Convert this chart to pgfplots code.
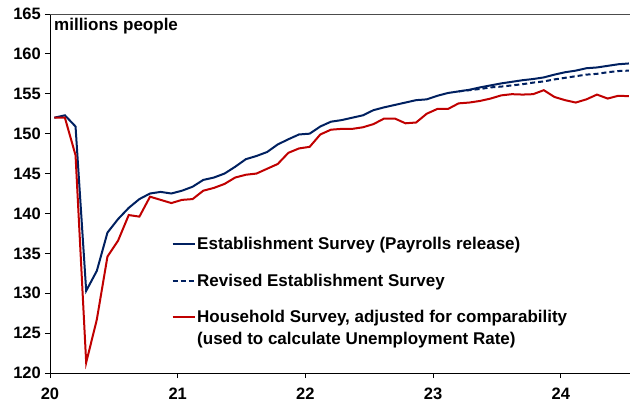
\documentclass[border=0pt]{standalone}
\usepackage{fontspec}
\setmainfont{Liberation Sans}
\usepackage{pgfplots}
\pgfplotsset{compat=1.18}
\usepackage{pgfplotstable}
\definecolor{navy}{RGB}{0,32,96}
\definecolor{dred}{RGB}{192,0,0}
\newcommand\lstrut{\rule[-4.5bp]{0pt}{17bp}}

% m = month index (0 = Jan 2020)
\pgfplotstableread{
m est hh
0 152.0 152.0
1 152.3 152.0
2 150.9 147.3
3 130.3 121.3
4 132.8 126.7
5 137.6 134.6
6 139.3 136.6
7 140.7 139.8
8 141.8 139.6
9 142.5 142.1
10 142.7 141.7
11 142.5 141.3
12 142.85 141.7
13 143.35 141.8
14 144.2 142.85
15 144.5 143.2
16 145.0 143.7
17 145.85 144.5
18 146.8 144.85
19 147.2 145.0
20 147.7 145.6
21 148.65 146.2
22 149.3 147.6
23 149.9 148.15
24 150.0 148.35
25 150.9 149.9
26 151.5 150.5
27 151.7 150.6
28 152.0 150.6
29 152.3 150.8
30 152.95 151.2
31 153.3 151.9
32 153.6 151.9
33 153.9 151.3
34 154.2 151.4
35 154.3 152.5
36 154.75 153.1
37 155.1 153.1
38 155.3 153.8
39 155.5 153.9
40 155.8 154.1
41 156.05 154.4
42 156.3 154.8
43 156.5 154.95
44 156.7 154.9
45 156.85 154.95
46 157.05 155.45
47 157.4 154.6
48 157.7 154.2
49 157.9 153.9
50 158.2 154.3
51 158.3 154.9
52 158.5 154.4
53 158.7 154.75
54 158.8 154.7
}\maintab

\pgfplotstableread{
m rev
38 155.3
39 155.45
40 155.6
41 155.8
42 155.9
43 156.05
44 156.2
45 156.4
46 156.55
47 156.8
48 157.0
49 157.2
50 157.4
51 157.5
52 157.7
53 157.85
54 157.9
}\revtab

\begin{document}
\begin{tikzpicture}
\useasboundingbox (-50bp,-28bp) rectangle (580bp,373bp);
\begin{axis}[
  scale only axis, width=580bp, height=359bp,
  xmin=-0.4, xmax=54.1, ymin=120, ymax=165,
  axis x line*=bottom, axis y line*=left,
  axis line style={black, line width=0.8bp},
  tick align=outside, major tick length=5bp,
  tick style={black, line width=0.8bp},
  xtick={-0.4,11.6,23.6,35.6,47.6}, xticklabels={20,21,22,23,24},
  ytick={120,125,...,165},
  minor tick num=0,
  ticklabel style={font=\fontsize{16.5bp}{18bp}\selectfont\bfseries},
  /pgf/number format/assume math mode=true,
  yticklabel style={inner xsep=4bp},
  xticklabel style={yshift=-6bp},
  legend cell align=left,
  legend image code/.code={\draw[#1] (0bp,0bp) -- (22bp,0bp);},
  legend style={draw=none, fill=none, at={(0.2095,0.3824)}, anchor=north west,
    inner sep=0pt, row sep=19.5bp,
    font=\fontsize{17bp}{19bp}\selectfont\bfseries,
    nodes={inner sep=1.5bp}},
]
\addplot[navy, line width=2bp] table[x=m,y=est]{\maintab};
\addlegendentry{\lstrut Establishment Survey (Payrolls release)}
\addplot[navy, line width=2bp, dash pattern=on 5bp off 3bp] table[x=m,y=rev]{\revtab};
\addlegendentry{\lstrut Revised Establishment Survey}
\addplot[dred, line width=2bp] table[x=m,y=hh]{\maintab};
\addlegendentry{\lstrut Household Survey, adjusted for comparability}
\addlegendimage{empty legend}
\addlegendentry{\lstrut\raisebox{15bp}[0pt][0pt]{(used to calculate Unemployment Rate)}}
\end{axis}
\draw[black!70, line width=0.8bp] (0,359bp) -- (580bp,359bp);
\node[anchor=base west, inner sep=0pt, font=\fontsize{17bp}{19bp}\selectfont\bfseries] at (4bp,342bp) {millions people};
\end{tikzpicture}
\end{document}
